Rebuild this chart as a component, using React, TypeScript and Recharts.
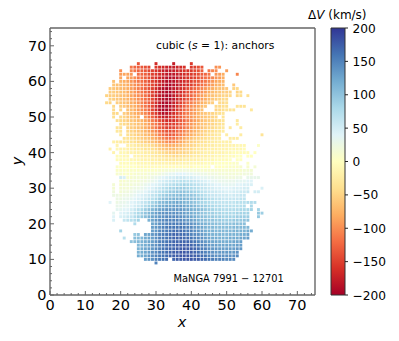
import { Bar, BarChart, Scatter, ScatterChart, XAxis, YAxis } from "recharts";

const _ = null;

// each row: measured dV (km/s) left to right, null where the spaxel is masked
const v65 = [-135, _, _, _, _, -165, _, _, _, _, -175, _, _, _, _, -155];
const v64 = [-115, -125, -130, -135, -140, -145, _, -155, -160, -165, -170, -175, -175, -170, -165, -160, _, -155, -150, -140, -135, _, _, _, -100, -95];
const v63 = [-100, _, _, -105, -115, -125, -130, -135, -145, -150, -160, -165, -175, -180, -180, -175, -170, -165, -160, -160, -155, -145, -140, -130, _, -115, -105, -100, _, _, -90];
const v62 = [-90, -85, -85, -95, _, -120, -125, -130, -140, -150, -155, -165, -170, -180, -185, -180, -175, -170, -165, -160, -155, -150, -140, -130, -125, -115, _, -95, -90, -80, _, _, _, -105];
const v61 = [-85, _, -85, -90, -100, -115, -120, -130, -140, -150, -160, -170, -175, -185, -190, -185, -180, -170, -165, -160, -155, -150, -140, -130, -120, -115, -105, -95, -90, -80];
const v60 = [-65, _, -75, -80, -85, -95, -105, -115, -120, -130, -140, -150, -160, -170, -180, -190, -190, -185, -175, -170, -165, -160, -150, -140, -135, -125, -115, -105, -95, -85, -80, -75];
const v59 = [-60, -65, -70, -75, -80, -90, -100, -105, -115, -125, -135, -145, -160, -170, -180, -190, -195, -185, -180, -170, -165, -160, -150, -140, -130, -120, -110, -100, -90, -80, -75, -70, _, _, -60];
const v58 = [-55, -60, -65, -70, -75, -80, -90, -100, -110, -120, -130, -140, -150, -165, -180, -190, -195, -190, -180, -175, -165, -160, -145, -135, -125, -115, -105, -95, -85, -80, -70, -65, -65, -60, _, -50, -45];
const v57 = [-55, -55, -60, -65, -70, -80, -85, -95, -105, -115, -125, -135, -150, -165, -180, -190, -195, -195, -180, -175, -165, -155, -140, -130, -120, -110, -100, -90, -80, -70, -65, -60, -55, -55, -50, _, -50, -45];
const v56 = [-50, -55, -55, -60, -65, -70, -75, -85, -95, -100, -110, -120, -135, -150, -165, -180, -190, -195, -195, -180, -170, -160, -150, -135, -125, -115, -100, -90, -80, -70, -65, -60, -55, -50, -50, -45, _, -45, -40, _, -40];
const v55 = [-50, -55, -60, -65, -70, -75, -85, -90, -100, -110, -120, -130, -145, -165, -180, -190, -195, -195, -185, -170, -160, -150, -135, -125, -110, -100, -90, -80, -70, -60, -55, -50, -45, -45];
const v54 = [-45, -50, _, -55, -60, -65, -70, -80, -85, -95, -105, -120, -130, -145, -165, -180, -195, -195, -190, -175, -165, -150, -135, -120, -110, -100, -90, -80, -70, -60, -55, _, -45, -45, -40];
const v53 = [-45, _, -55, -60, -70, -75, -80, -90, -105, -115, -130, -145, -165, -185, -195, -195, -185, -175, -160, -145, -130, -115, -100, -95, -85, -70, -60, _, _, -45, -45, -40, -40, _, _, -35, -35, -35];
const v52 = [-45, _, -50, _, -65, -70, -80, -90, -100, -110, -125, -145, -165, -185, -195, -195, -185, -170, -155, -140, -125, -110, -100, -90, -75, -65, _, _, _, -50, -45, -40, -35, -35, -35, _, _, _, _, -30];
const v51 = [-45, -45, _, -55, -65, -70, -80, -85, -95, -105, -120, -140, -155, -175, -190, -185, -175, -165, -150, -135, -120, -110, -95, -90, -75, -65, -60, -55, -50, -45, -40, -35];
const v50 = [-40, _, -45, -50, -60, -65, -70, -80, _, -95, -110, -125, -145, -160, -175, -175, -165, -155, -145, -130, -115, -105, -95, -85, -75, -65, -60, -55, -50, -45, _, -35];
const v49 = [-40, -45, -50, -55, -60, -65, -70, -75, -85, -95, -110, -125, -140, -155, -165, -165, -160, -150, -135, -125, -110, -100, -90, -80, -70, -60, -55, -50, -45, -40, -35, _, _, _, -30];
const v48 = [-40, -45, -50, -55, -60, -65, -70, -80, -90, -105, -115, -130, -145, -155, -155, -150, -145, -130, -120, -105, -95, -85, -75, -65, -60, -55, -50, -45, -40, -35, _, _, _, -25];
const v47 = [-35, -40, _, -50, -55, -60, -65, -70, -80, -90, -100, -115, -130, -140, -150, -150, -145, -135, -125, -115, -105, -90, -80, -75, -65, -55, -50, -45, -40, -35, -30, _, -30, _, _, -25];
const v46 = [-30, -35, _, -45, -50, -55, -60, -65, -75, -85, -95, -105, -120, -130, -140, -140, -135, -125, -115, -105, -95, -85, -75, -65, -55, -50, -45, -40, -35, -30, -25];
const v45 = [-30, _, -40, -45, -50, -55, -60, -70, -75, -85, -95, -110, -120, -130, -135, -130, -120, -110, -100, -90, -80, -70, -60, -55, -45, -40, -35, -30, -25, _, -25, _, _, _, -25, _, _, _, _, _, -35];
const v44 = [-35, -35, -40, -45, -50, -55, -60, -65, -75, -85, -95, -105, -115, -120, -115, -105, -95, -85, -75, -65, -55, -50, -45, -40, -35, -30, -25, -25, _, _, -25, -25, -25];
const v43 = [-20, -25, -30, -30, -35, -35, -40, -45, -50, -55, -60, -65, -75, -85, -90, -100, -105, -100, -95, -85, -75, -65, -55, -50, -45, -40, -35, -30, -25, -25, -20, -20, -20, -20];
const v42 = [-15, _, _, -20, -20, -25, -30, -35, -35, -40, -45, -55, -60, -70, -75, -80, -80, -75, -70, -60, -55, -50, -45, -35, -30, -30, -25, -25, -20, -20, -20, -15, -15, -15, -10, -10, -10, _, _, _, 5];
const v41 = [-20, _, -10, -15, -15, -20, -20, -25, -25, -30, -35, -35, -40, -45, -55, -60, -65, -70, -70, -65, -60, -55, -50, -45, -35, -30, -30, -25, -20, -20, -20, -15, -15, -15, -10, -10, -10, -10, -5];
const v40 = [-15, _, -10, -10, -15, -15, -20, -20, -20, -25, -25, -30, -35, -40, -45, -50, -55, -55, -55, -50, -50, -45, -40, -35, -30, -25, -20, -20, -20, -15, -15, -15, -10, -10, -5, -5, -5, -5, -5, _, 0];
const v39 = [-5, -5, -10, -10, _, -15, -15, -20, -20, -20, -25, -30, -30, -35, -40, -40, -45, -45, -40, -40, -35, -30, -25, -25, -20, -20, -15, -15, -10, -10, -10, -5, -5, -5, 0, 0, _, 0, 0];
const v38 = [-5, -5, -5, -5, -10, -10, -10, -15, -15, -15, -20, -20, -25, -25, -30, -30, -30, -30, -30, -25, -25, -20, -20, -15, -15, -10, -10, -10, -5, -5, -5, -5, 0, _, 0, 0];
const v37 = [-5, -5, -5, -5, -5, -10, -10, -10, -10, -15, -15, -15, -15, -15, -20, -20, -20, -15, -15, -15, -10, -10, -10, -10, -5, -5, -5, 0, 0, 0, 0, 0, 5, 5, _, _, 5];
const v36 = [5, 0, 0, 0, 0, 0, -5, -5, -5, -5, -5, -5, -5, -5, -5, -5, -5, -5, -5, -5, -5, -5, 0, 0, 0, 0, 0, _, 0, 0, 0, 5, 5, 5, 5, 10, _, 10, _, 15];
const v35 = [5, 5, 5, 5, 5, 5, 5, 5, 5, 5, 5, 5, 10, 10, 15, 15, 15, 20, 20, 20, 20, 15, 15, 15, 10, 10, 10, 10, 10, 10, 10, 10, 10, 10, 10, 10, 15, 15, 15];
const v34 = [10, 10, 5, 5, 5, 10, 10, 10, 10, 15, 15, 15, 20, 25, 30, 35, 35, 40, 40, 40, 35, 35, 30, 30, 25, 25, 20, 20, 20, 15, 15, 15, 15, 15, 15, 15, 20, 20, 20];
const v33 = [50, 45, 10, 10, 15, 15, 15, 15, 20, 25, 30, 35, 40, 45, 50, 50, 55, 55, 55, 50, 50, 45, 40, 35, 35, 30, 30, 25, 25, 25, 20, 20, 20, 25, 25, _, 30, 30, 30, 30];
const v32 = [10, 10, 15, 15, 15, 15, 20, 20, 25, 30, 35, 45, 50, 55, 60, 65, 65, 70, 70, 65, 65, 60, 55, 50, 45, 40, 35, 35, 30, 30, 30, 30, 30, 35, 35, 35, 40, 40];
const v31 = [15, _, 10, 15, 15, 15, 20, 20, 25, 30, 35, 40, 45, 50, 60, 65, 70, 75, 80, 80, 85, 80, 75, 70, 65, 60, 55, 50, 45, 40, 40, 35, 35, 35, 35, 40, 40, 45, 45, 45];
const v30 = [15, _, 15, 15, 15, 20, 25, 25, 30, 35, 40, 45, 55, 60, 70, 75, 85, 85, 90, 90, 90, 85, 80, 75, 70, 65, 60, 55, 50, 45, 45, 40, 40, 40, 45, 45, 45, 50, 50, _, _, _, 45];
const v29 = [20, _, 15, 20, 20, 25, 30, 35, 35, 40, 50, 55, 65, 70, 80, 85, 95, 95, 100, 100, 100, 95, 90, 85, 80, 70, 65, 60, 55, 55, 50, 50, 45, 45, 50, 50, 55, 55, 60, _, 50, 50];
const v28 = [25, 25, 20, 25, 25, 30, 35, 40, 45, 50, 55, 65, 70, 80, 90, 95, 100, 105, 105, 110, 105, 100, 100, 95, 85, 80, 70, 65, 60, 60, 55, 55, 55, 50, 55, 55, 60, 60];
const v27 = [25, 25, 30, 30, 35, 40, 45, 50, 55, 65, 70, 80, 90, 100, 105, 110, 115, 115, 115, 115, 110, 105, 100, 95, 90, 80, 75, 70, 65, 65, 60, 60, 60, 60, 60, 65, 65];
const v26 = [40, _, 25, 30, 30, 35, 40, 45, 50, 60, 65, 75, 85, 95, 105, 110, 115, 120, 120, 125, 120, 115, 110, 105, 100, 90, 85, 80, 75, 70, 70, 65, 65, 65, 65, 65, 70, 70, 70, 75, 75, 75];
const v25 = [30, 30, 35, 35, 40, 50, 55, 65, 75, 85, 95, 105, 115, 120, 125, 125, 130, 130, 130, 125, 120, 115, 110, 100, 95, 90, 85, 80, 75, 75, 70, 70, 70, 70, 70, 70, 75, _, 80];
const v24 = [35, 35, 40, 40, 50, 60, 70, 80, 90, 100, 110, 120, 125, 130, 135, 135, 135, 135, 135, 130, 125, 120, 115, 110, 105, 95, 90, 85, 80, 80, 75, 75, 75, 75, 75, 80, 80, 80, 85, _, 85];
const v23 = [35, _, 40, 45, 50, 55, 70, 80, 90, 100, 110, 120, 130, 135, 140, 140, 140, 140, 140, 135, 130, 125, 120, 115, 110, 100, 95, 90, 90, 85, 85, 80, 80, 80, 80, 85, 85, 85, 85, _, _, 95, 90];
const v22 = [40, _, 45, 50, 55, 60, 75, 85, 95, 105, 115, 125, 130, 135, 140, 145, 145, 145, 145, 140, 135, 130, 125, 120, 110, 105, 100, 95, 95, 90, 90, 85, 85, 85, 85, 90, 90, 90, 90, _, _, 95];
const v21 = [45, _, _, 60, 65, 70, 75, 85, _, _, 115, 125, 135, 140, 145, 150, 150, 150, 150, 145, 140, 135, 130, 125, 115, 110, 105, 100, 100, 95, 95, 90, 90, 90, 95, 95, 95, 100, 100];
const v20 = [75, _, _, _, _, 125, 130, 140, 145, 150, 155, 155, 155, 155, 150, 145, 140, 135, 125, 120, 115, 110, 105, 105, 100, 100, 100, 100, 105, 105, 105, 105];
const v19 = [130, 135, 140, 150, 155, 160, 160, 160, 160, 155, 150, 145, 135, 130, 125, 115, 110, 110, 105, 105, 105, 105, 105, 110, 110, 110, 110, 110];
const v18 = [85, _, _, _, _, _, _, _, _, 130, 135, 145, 150, 155, 160, 165, 165, 165, 160, 155, 150, 140, 135, 130, 120, 115, 115, 110, 110, 110, 110, 110, 115, 115, 115, 115, 120, 120];
const v17 = [95, 100, _, 125, 125, 135, 140, 150, 155, 160, 165, 170, 170, 165, 165, 160, 150, 145, 140, 135, 125, 120, 115, 115, 115, 110, 110, 115, 115, 115, 120, 120, 125];
const v16 = [70, _, _, 105, 105, 110, 120, 125, 130, 140, 150, 155, 160, 165, 170, 170, 170, 165, 165, 160, 150, 145, 140, 130, 125, 120, 120, 115, 115, 115, 120, 120, 120, 125, 125, 130];
const v15 = [100, 105, 110, 115, 120, 125, 130, 140, 150, 155, 160, 165, 170, 170, 170, 170, 170, 165, 160, 150, 145, 135, 130, 125, 125, 120, 120, 120, 120, 125, 125, 130];
const v14 = [110, 115, 120, 125, 135, 140, 150, 155, 165, 165, 170, 175, 175, 175, 175, 170, 165, 160, 150, 145, 135, 130, 130, 125, 125, 125, 125, 125, 130, 130];
const v13 = [115, 120, 125, 130, 135, 145, 150, 160, 165, 170, 170, 175, 175, 180, 175, 175, 170, 165, 155, 150, 140, 135, 135, 130, 130, 130, 130, 130, 135, 135];
const v12 = [115, 120, 125, 130, 140, 145, 155, 160, 165, 170, 175, 175, 180, 180, 175, 175, 170, 165, 160, 150, 145, 140, 135, 135, 135, 135, 135, 135, 140];
const v11 = [120, 120, 125, 135, 140, 150, 155, 160, 165, 170, 175, 175, 180, 180, 180, 175, 175, 170, 165, 160, 150, 145, 140, 140, 140, 140, 140, 140, 145];
const v10 = [130, 135, 140, 150, 155, 160, 165, _, 170, 175, 175, 180, 180, 180, 175, 175, 170, 165, 160, 155, 150, 150, 150, 145, 145, 145];
const v9 = [150];

// [row y, x of the first value, values]
const rows: [number, number, (number | null)[]][] = [
  [65, 25, v65], [64, 23, v64], [63, 20, v63], [62, 20, v62], [61, 20, v61], [60, 18, v60],
  [59, 18, v59], [58, 17, v58], [57, 17, v57], [56, 16, v56], [55, 17, v55], [54, 16, v54],
  [53, 18, v53], [52, 18, v52], [51, 18, v51], [50, 18, v50], [49, 19, v49], [48, 20, v48],
  [47, 19, v47], [46, 19, v46], [45, 20, v45], [44, 21, v44], [43, 18, v43], [42, 19, v42],
  [41, 17, v41], [40, 18, v40], [39, 19, v39], [38, 19, v38], [37, 20, v37], [36, 19, v36],
  [35, 19, v35], [34, 19, v34], [33, 20, v33], [32, 20, v32], [31, 18, v31], [30, 18, v30],
  [29, 18, v29], [28, 18, v28], [27, 19, v27], [26, 17, v26], [25, 19, v25], [24, 19, v24],
  [23, 18, v23], [22, 18, v22], [21, 18, v21], [20, 24, v20], [19, 29, v19], [18, 20, v18],
  [17, 24, v17], [16, 21, v16], [15, 23, v15], [14, 25, v14], [13, 25, v13], [12, 25, v12],
  [11, 25, v11], [10, 27, v10], [9, 30, v9]
];

const spaxels = rows.flatMap(([y, x0, values]) =>
  values.flatMap((dv, i) => (dv === null ? [] : [{ x: x0 + i, y, dv }]))
);

const axisTicks = [0, 2, 4, 6, 8, 10, 12, 14, 16, 18, 20, 22, 24, 26, 28, 30, 32, 34, 36, 38, 40, 42, 44, 46, 48, 50, 52, 54, 56, 58, 60, 62, 64, 66, 68, 70, 72, 74];
const colorbarTicks = [-200, -150, -100, -50, 0, 50, 100, 150, 200];
const colorbarRange = [{ name: "dv", range: [-200, 200] }];

// RdYlBu, low to high
const rdylbu = ["#a50026", "#d73027", "#f46d43", "#fdae61", "#fee090", "#ffffbf", "#e0f3f8", "#abd9e9", "#74add1", "#4575b4", "#313695"];

const FONT = "DejaVu Sans";
const FRAME = "#666666";

const dvColor = (dv: number) => {
  const t = ((Math.max(-200, Math.min(200, dv)) + 200) / 400) * (rdylbu.length - 1);
  const i = Math.min(Math.floor(t), rdylbu.length - 2);
  const hex = (c: string, k: number) => parseInt(c.slice(1 + k * 2, 3 + k * 2), 16);
  const mix = [0, 1, 2].map((k) => Math.round(hex(rdylbu[i], k) + (hex(rdylbu[i + 1], k) - hex(rdylbu[i], k)) * (t - i)));
  return `rgb(${mix.join(",")})`;
};

const SpaxelMark = (props: any) => (
  <rect x={props.cx - 1.45} y={props.cy - 1.45} width={2.9} height={2.9} fill={dvColor(props.payload.dv)} />
);

const tickLen = (value: number) => (value % 10 === 0 ? 4 : 2);

const BottomTick = ({ x, y, payload }: any) => (
  <g>
    <line x1={x} x2={x} y1={y} y2={y - tickLen(payload.value)} stroke={FRAME} />
    {payload.value % 10 === 0 && (
      <text x={x} y={y + 15} textAnchor="middle" fontFamily={FONT} fontSize={14.5} fill="#000">
        {payload.value}
      </text>
    )}
  </g>
);

const TopTick = ({ x, y, payload }: any) => (
  <line x1={x} x2={x} y1={y} y2={y + tickLen(payload.value)} stroke={FRAME} />
);

const LeftTick = ({ x, y, payload }: any) => (
  <g>
    <line x1={x} x2={x + tickLen(payload.value)} y1={y} y2={y} stroke={FRAME} />
    {payload.value % 10 === 0 && (
      <text x={x - 3.5} y={y + 5} textAnchor="end" fontFamily={FONT} fontSize={14.5} fill="#000">
        {payload.value}
      </text>
    )}
  </g>
);

const RightTick = ({ x, y, payload }: any) => (
  <line x1={x} x2={x - tickLen(payload.value)} y1={y} y2={y} stroke={FRAME} />
);

const ColorbarTick = ({ x, y, payload }: any) => (
  <g>
    <line x1={x} x2={x + 3} y1={y} y2={y} stroke="#222" />
    <text x={x + 7.5} y={y + 4.5} fontFamily={FONT} fontSize={12.2} fill="#000">
      {payload.value === 0 ? "0" : payload.value < 0 ? `\u2212${-payload.value}` : payload.value}
    </text>
  </g>
);

export default function App() {
  return (
    <div style={{ position: "fixed", left: 0, top: 0, width: 399, height: 341, background: "#fff" }}>
      <div style={{ position: "absolute", left: 0, top: 0 }}>
        <ScatterChart width={399} height={341} margin={{ left: 49, right: 83, top: 27, bottom: 45 }}>
          <XAxis dataKey="x" type="number" domain={[0, 75]} ticks={axisTicks} interval={0} height={1} tickSize={0} tickMargin={0} stroke={FRAME} strokeWidth={1.4} tick={<BottomTick />} />
          <XAxis xAxisId="top" orientation="top" type="number" domain={[0, 75]} ticks={axisTicks} interval={0} height={1} tickSize={0} tickMargin={0} stroke={FRAME} strokeWidth={1.4} tick={<TopTick />} />
          <YAxis dataKey="y" type="number" domain={[0, 75]} ticks={axisTicks} interval={0} width={1} tickSize={0} tickMargin={0} stroke={FRAME} strokeWidth={1.4} tick={<LeftTick />} />
          <YAxis yAxisId="right" orientation="right" type="number" domain={[0, 75]} ticks={axisTicks} interval={0} width={1} tickSize={0} tickMargin={0} stroke={FRAME} strokeWidth={1.4} tick={<RightTick />} />
          <Scatter data={spaxels} shape={<SpaxelMark />} isAnimationActive={false} />
          <text x={156} y={49} fontFamily={FONT} fontSize={10.75} fill="#000">
            cubic (<tspan fontStyle="italic">s</tspan> = 1): anchors
          </text>
          <text x={173.5} y={282} fontFamily={FONT} fontSize={9.85} fill="#000">
            MaNGA 7991 − 12701
          </text>
          <text x={182} y={327} textAnchor="middle" fontFamily={FONT} fontStyle="italic" fontSize={14.5} fill="#000">
            x
          </text>
          <text x={22} y={161} textAnchor="middle" transform="rotate(-90 22 161)" fontFamily={FONT} fontStyle="italic" fontSize={14.5} fill="#000">
            y
          </text>
        </ScatterChart>
      </div>
      <div style={{ position: "absolute", left: 0, top: 0 }}>
        <BarChart width={399} height={341} data={colorbarRange} barCategoryGap={0} margin={{ left: 331, right: 53, top: 28, bottom: 46 }}>
          <defs>
            <linearGradient id="dvScale" x1="0" y1="1" x2="0" y2="0">
              {rdylbu.map((c, i) => (
                <stop key={c} offset={`${(i / (rdylbu.length - 1)) * 100}%`} stopColor={c} />
              ))}
            </linearGradient>
          </defs>
          <XAxis dataKey="name" hide />
          <YAxis orientation="right" type="number" domain={[-200, 200]} ticks={colorbarTicks} interval={0} width={1} tickSize={0} tickMargin={0} axisLine={false} tick={<ColorbarTick />} />
          <Bar dataKey="range" fill="url(#dvScale)" stroke="#333" isAnimationActive={false} />
          <text x={308} y={19} fontFamily={FONT} fontSize={12} fill="#000">
            Δ<tspan fontStyle="italic">V</tspan> (km/s)
          </text>
        </BarChart>
      </div>
    </div>
  );
}
